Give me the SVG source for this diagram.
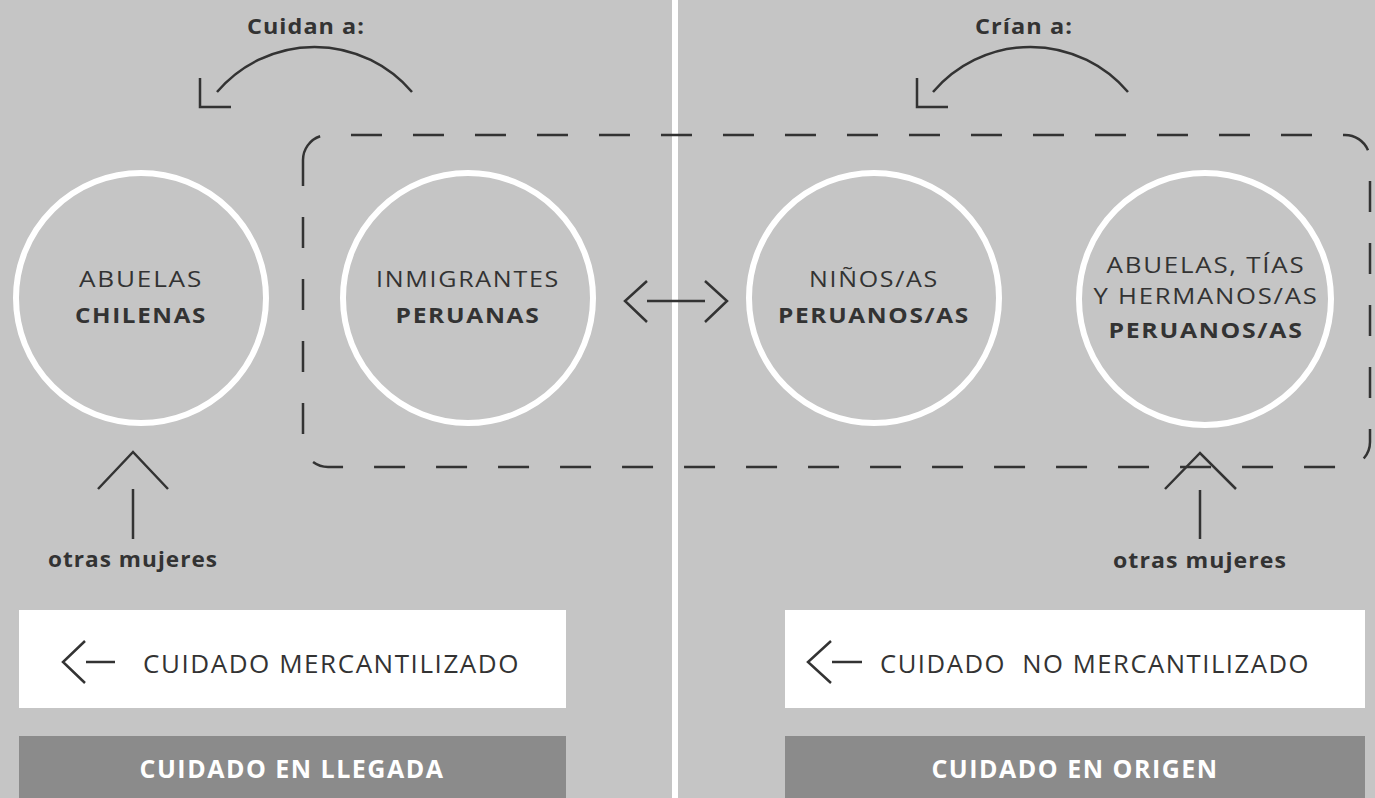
<svg xmlns="http://www.w3.org/2000/svg" width="1375" height="798" viewBox="0 0 1375 798">
<defs>
<style>
.bg{fill:#c5c5c5}
.ring{fill:none;stroke:#ffffff;stroke-width:6}
.ln{fill:none;stroke:#333333;stroke-width:2.5;stroke-linecap:butt;stroke-linejoin:miter}
.dash{fill:none;stroke:#333333;stroke-width:2.5;stroke-dasharray:31 31}
.t{font-family:"Open Sans","Liberation Sans",sans-serif;fill:#333333;text-anchor:middle;letter-spacing:1.5px}
.n{font-weight:400;font-size:22px}
.b{font-weight:700;font-size:22px}
.h{font-weight:700;font-size:22px;letter-spacing:1px}
.box{fill:#ffffff}
.dark{fill:#8b8b8b}
.bt{font-family:"Open Sans","Liberation Sans",sans-serif;fill:#333333;font-size:25px;font-weight:400;letter-spacing:1.5px}
.wt{font-family:"Open Sans","Liberation Sans",sans-serif;fill:#ffffff;font-size:25px;font-weight:700;text-anchor:middle;letter-spacing:1.5px}
</style>
</defs>
<rect class="bg" x="0" y="0" width="1375" height="798"/>
<rect x="672" y="0" width="6" height="798" fill="#ffffff"/>

<g id="frame">
<path class="dash" d="M303,160 A25,25 0 0 1 328,135 H1345 A25,25 0 0 1 1370,160 V442 A25,25 0 0 1 1345,467 H328 A25,25 0 0 1 303,442 Z"/>
</g>

<g id="node-abuelas-chilenas">
<circle class="ring" cx="141" cy="298" r="125"/>
<text class="t n" x="141" y="287" textLength="124" lengthAdjust="spacingAndGlyphs">ABUELAS</text>
<text class="t b" x="141" y="323" textLength="132" lengthAdjust="spacingAndGlyphs">CHILENAS</text>
</g>

<g id="node-inmigrantes">
<circle class="ring" cx="468" cy="298" r="125"/>
<text class="t n" x="468" y="287" textLength="184" lengthAdjust="spacingAndGlyphs">INMIGRANTES</text>
<text class="t b" x="468" y="323" textLength="145" lengthAdjust="spacingAndGlyphs">PERUANAS</text>
</g>

<g id="node-ninos">
<circle class="ring" cx="874" cy="298" r="125"/>
<text class="t n" x="874" y="287" textLength="130" lengthAdjust="spacingAndGlyphs">NIÑOS/AS</text>
<text class="t b" x="874" y="323" textLength="192" lengthAdjust="spacingAndGlyphs">PERUANOS/AS</text>
</g>

<g id="node-abuelas-tias">
<circle class="ring" cx="1205" cy="299" r="126"/>
<text class="t n" x="1206" y="273" textLength="199" lengthAdjust="spacingAndGlyphs">ABUELAS, TÍAS</text>
<text class="t n" x="1206" y="304" textLength="225" lengthAdjust="spacingAndGlyphs">Y HERMANOS/AS</text>
<text class="t b" x="1206" y="338" textLength="195" lengthAdjust="spacingAndGlyphs">PERUANOS/AS</text>
</g>

<g id="label-cuidan">
<text class="t h" x="306" y="34" textLength="118" lengthAdjust="spacingAndGlyphs">Cuidan a:</text>
</g>
<g id="label-crian">
<text class="t h" x="1024" y="34" textLength="98" lengthAdjust="spacingAndGlyphs">Crían a:</text>
</g>
<g id="label-otras-left">
<text class="t h" x="133" y="567" textLength="170" lengthAdjust="spacingAndGlyphs">otras mujeres</text>
</g>
<g id="label-otras-right">
<text class="t h" x="1200" y="568" textLength="174" lengthAdjust="spacingAndGlyphs">otras mujeres</text>
</g>

<g id="connectors">
<path class="ln" d="M217,92 A128,128 0 0 1 412,92"/>
<path class="ln" d="M200,78 V107 H231"/>
<path class="ln" d="M933,92 A128,128 0 0 1 1128,92"/>
<path class="ln" d="M917,78 V107 H948"/>
<path class="ln" d="M647,281 L625,301 L647,322"/>
<path class="ln" d="M647,301 H705"/>
<path class="ln" d="M705,281 L727,301 L705,322"/>
<path class="ln" d="M98,489 L133,452 L168,489"/>
<path class="ln" d="M133,489 V539"/>
<path class="ln" d="M1165,489 L1200,453 L1236,489"/>
<path class="ln" d="M1200,490 V539"/>
</g>

<g id="legend-left">
<rect class="box" x="19" y="610" width="547" height="98"/>
<path class="ln" d="M85,641 L63,662 L85,683"/>
<path class="ln" d="M86,662 H115"/>
<text class="bt" x="143" y="673" textLength="377" lengthAdjust="spacingAndGlyphs">CUIDADO MERCANTILIZADO</text>
</g>
<g id="legend-right">
<rect class="box" x="785" y="610" width="580" height="98"/>
<path class="ln" d="M831,641 L808,662 L831,683"/>
<path class="ln" d="M832,662 H862"/>
<text class="bt" x="880" y="673" textLength="430" lengthAdjust="spacingAndGlyphs" xml:space="preserve">CUIDADO  NO MERCANTILIZADO</text>
</g>
<g id="title-left">
<rect class="dark" x="19" y="736" width="547" height="62"/>
<text class="wt" x="292" y="778">CUIDADO EN LLEGADA</text>
</g>
<g id="title-right">
<rect class="dark" x="785" y="736" width="580" height="62"/>
<text class="wt" x="1075" y="778">CUIDADO EN ORIGEN</text>
</g>
</svg>
